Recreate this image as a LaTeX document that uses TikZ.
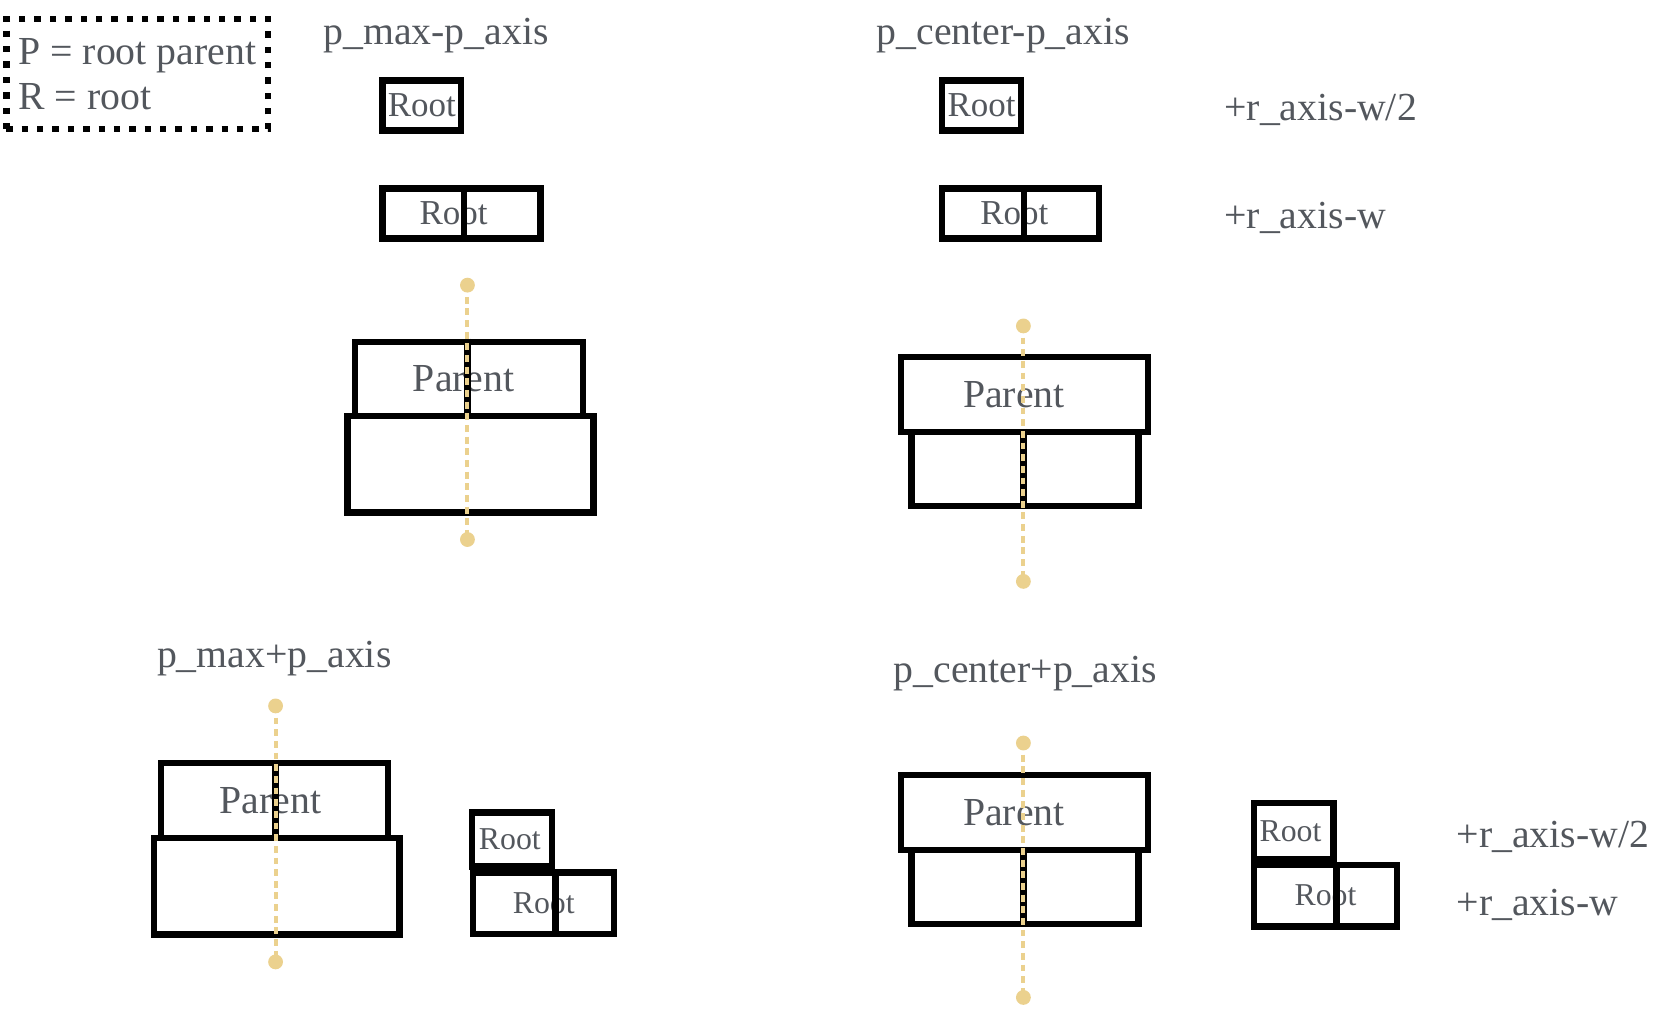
\documentclass[tikz,border=0pt]{standalone}
\usepackage{fontspec}
\setmainfont{Liberation Serif}
\usetikzlibrary{positioning}
\definecolor{labelgray}{HTML}{53575D}
\definecolor{axisgold}{HTML}{EBD18E}

\begin{document}
\begin{tikzpicture}[x=1pt, y=-1pt,
  every node/.style = {inner sep=0pt, text=labelgray},
  box/.style = {shape=rectangle, draw=black, line width=6pt, font=\fontsize{33}{36}\selectfont},
  smallbox/.style = {box, font=\fontsize{30}{33}\selectfont},
  bigbox/.style = {box, font=\fontsize{37.5}{40}\selectfont},
  tag/.style = {anchor=west, font=\fontsize{37.5}{40}\selectfont},
  divider/.style = {draw=black, line width=6pt},
  axisline/.style = {draw=axisgold, line width=3.8pt, dash pattern=on 6.5pt off 4.5pt},
  axisdot/.style = {shape=circle, fill=axisgold, minimum size=14pt}]
  \useasboundingbox (0,0) rectangle (1568,951);

  % legend
  \node[draw=black, line width=6pt, dash pattern=on 6pt off 8.5pt,
        minimum width=247pt, minimum height=104pt, align=left,
        font=\fontsize{37.5}{43}\selectfont] (legend) at (129.5,70)
    {\raisebox{-2pt}{P = root parent}\\\raisebox{-2pt}{R = root}};

  % titles
  \node[tag] (tMaxMinus) at (305,34) {p\_max-p\_axis};
  \node[tag] (tCenterMinus) at (827,34) {p\_center-p\_axis};
  \node[tag] (tMaxPlus) at (148,621) {p\_max+p\_axis};
  \node[tag] (tCenterPlus) at (843,635) {p\_center+p\_axis};
  \node[tag] (offHalfB) at (1155,104) {+r\_axis-w/2};
  \node[tag] (offFullB) at (1155,206) {+r\_axis-w};
  \node[tag] (offHalfD) at (1374,790) {+r\_axis-w/2};
  \node[tag] (offFullD) at (1374,854) {+r\_axis-w};

  % p_max-p_axis
  \node[box, minimum width=74pt, minimum height=47pt] (rootA1) at (398,99.5) {Root};
  \node[box, minimum width=149pt, minimum height=47pt] (rootA2) at (435.5,201.5) {Root\kern15pt};
  \draw[divider] (rootA1.east |- rootA2.north) -- (rootA1.east |- rootA2.south);
  \node[bigbox, minimum width=215pt, minimum height=70pt] (parentA) at (442.5,357.5) {Parent\kern10pt};
  \node[box, minimum width=232pt, minimum height=91pt] (baseA) at (444,438) {};
  \node[axisdot] (axisAtop) at (441,269) {};
  \node[axisdot] (axisAbot) at (441,509) {};
  \draw[divider] (axisAtop |- parentA.north) -- (axisAtop |- parentA.south);
  \draw[axisline] (axisAtop.center) -- (axisAbot.center);

  % p_center-p_axis
  \node[box, minimum width=74pt, minimum height=47pt] (rootB1) at (926,99.5) {Root};
  \node[box, minimum width=148pt, minimum height=47pt] (rootB2) at (963,201.5) {Root\kern12pt};
  \draw[divider] (rootB1.east |- rootB2.north) -- (rootB1.east |- rootB2.south);
  \node[bigbox, minimum width=233pt, minimum height=71pt] (parentB) at (966.5,372) {Parent\kern20pt};
  \node[box, minimum width=214pt, minimum height=70pt] (baseB) at (967,442.5) {};
  \node[axisdot] (axisBtop) at (965.5,307.5) {};
  \node[axisdot] (axisBbot) at (965.5,548.5) {};
  \draw[divider] (axisBtop |- baseB.north) -- (axisBtop |- baseB.south);
  \draw[axisline] (axisBtop.center) -- (axisBbot.center);

  % p_max+p_axis
  \node[bigbox, minimum width=214pt, minimum height=70.5pt] (parentC) at (259,755.25) {Parent\kern8pt};
  \node[box, minimum width=232pt, minimum height=91pt] (baseC) at (261,836) {};
  \node[smallbox, minimum width=76pt, minimum height=51pt] (rootC1) at (483,792) {Root\kern4pt};
  \node[smallbox, minimum width=133pt, minimum height=58pt] (rootC2) at (513,852) {Root};
  \draw[divider] (rootC1.east |- rootC2.north) -- (rootC1.east |- rootC2.south);
  \node[axisdot] (axisCtop) at (260,666) {};
  \node[axisdot] (axisCbot) at (260,907.5) {};
  \draw[divider] (axisCtop |- parentC.north) -- (axisCtop |- parentC.south);
  \draw[axisline] (axisCtop.center) -- (axisCbot.center);

  % p_center+p_axis
  \node[bigbox, minimum width=233pt, minimum height=71pt] (parentD) at (966.5,766.5) {Parent\kern20pt};
  \node[box, minimum width=214pt, minimum height=70pt] (baseD) at (967,837) {};
  \node[smallbox, minimum width=75pt, minimum height=53pt] (rootD1) at (1220.5,784) {Root\kern6pt};
  \node[smallbox, minimum width=135pt, minimum height=58pt] (rootD2) at (1250.5,845) {Root};
  \draw[divider] (rootD1.east |- rootD2.north) -- (rootD1.east |- rootD2.south);
  \node[axisdot] (axisDtop) at (965.5,701) {};
  \node[axisdot] (axisDbot) at (965.5,941) {};
  \draw[divider] (axisDtop |- baseD.north) -- (axisDtop |- baseD.south);
  \draw[axisline] (axisDtop.center) -- (axisDbot.center);
\end{tikzpicture}
\end{document}
